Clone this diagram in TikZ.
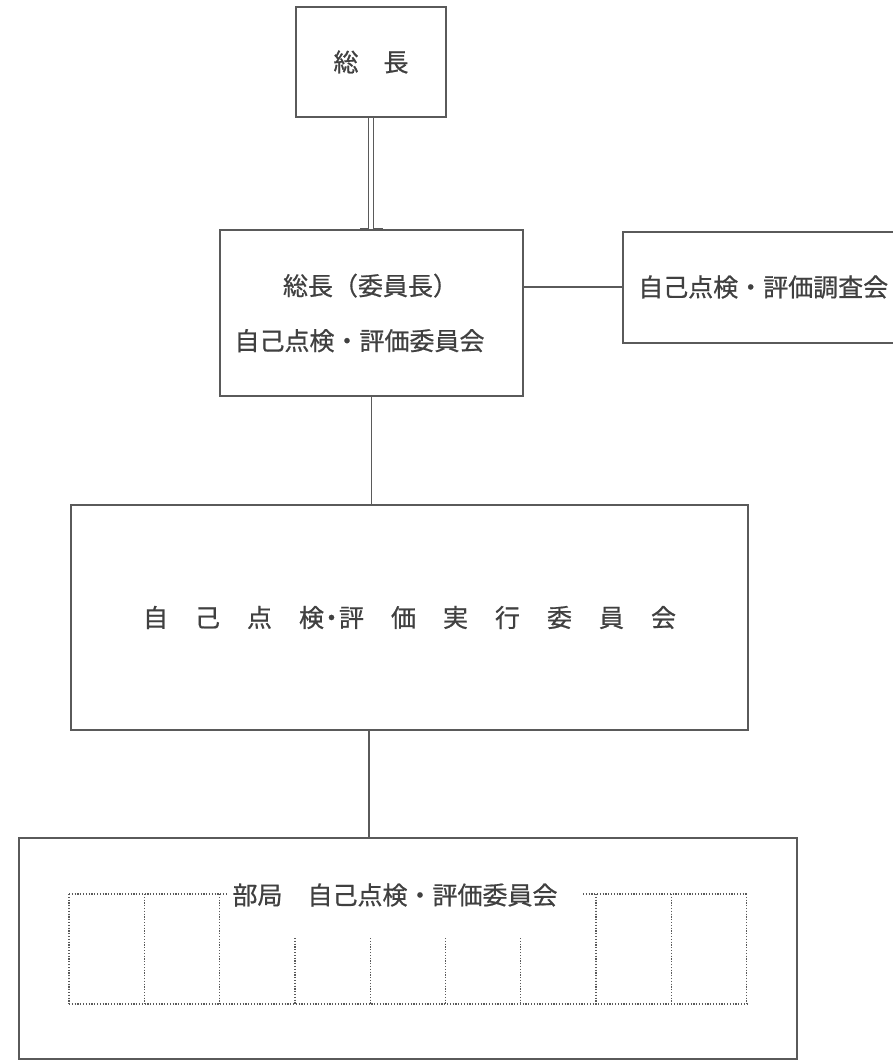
\documentclass[tikz,border=0pt]{standalone}
\usepackage{fontspec}
\newfontfamily\jp[FakeBold=0.7]{Noto Sans CJK JP}
\definecolor{ln}{HTML}{5A5A5A}
\definecolor{tx}{HTML}{404040}
\begin{document}
\begin{tikzpicture}[x=1pt,y=-1pt,
  box/.style={draw=ln,line width=1.3pt,rectangle,inner sep=0pt,text=tx,
    font=\jp\fontsize{25}{55}\selectfont,align=center},
  conn/.style={draw=ln,line width=1.2pt},
  dots/.style={draw=ln,line width=1.3pt,dash pattern=on 1.2pt off 1.6pt},
  lbl/.style={text=tx,font=\jp\fontsize{25}{30}\selectfont,inner sep=0pt}]
\useasboundingbox (0,0) rectangle (893,1060);
\fill[white] (0,0) rectangle (893,1060);

% boxes
\node[box,minimum width=150,minimum height=110] (b1) at (371,62) {総\hspace{25pt}長};
\node[box,minimum width=303,minimum height=166] (b2) at (371.5,313) {\hspace*{-2pt}総長（委員長）\\\hspace*{-24pt}自己点検・評価委員会};
\node[box,minimum width=677,minimum height=225] (b3) at (409.5,617.5)
  {自\hspace{27pt}己\hspace{27pt}点\hspace{27pt}検\kern-5pt・\kern-5pt評\hspace{27pt}価\hspace{27pt}実\hspace{27pt}行\hspace{27pt}委\hspace{27pt}員\hspace{27pt}会};
\node[box,minimum width=778,minimum height=221] (b4) at (408,948.5) {};

% right box (open on the right)
\node[lbl,anchor=west] (chosa) at (638,287) {自己点検・評価調査会};
\coordinate (rtl) at (623,232);
\coordinate (rbl) at (623,343);
\draw[conn,line width=1.3pt] (893,232) -- (rtl) -- (rbl) -- (893,343);

% connectors
\coordinate (dl) at ([xshift=-2.5pt]b1.south);
\coordinate (dr) at ([xshift=2.5pt]b1.south);
\draw[conn,line width=1pt] (dl) -- (dl |- 0,228) -- ++(-9,0);
\draw[conn,line width=1pt] (dr) -- (dr |- 0,228) -- ++(9,0);
\draw[conn,line width=1pt] ([xshift=-12pt]b2.north) -- ([xshift=13pt]b2.north);
\draw[conn] (b2.east |- chosa) -- (rtl |- chosa);
\draw[conn] (b2.south) -- (b2.south |- b3.north);
\draw[conn] (b3.south -| 369,0) -- (369,0 |- b4.north);

% bureau label and dotted frames
\node[lbl] (bk) at (395,895) {部局　自己点検・評価委員会};
\foreach \i in {0,1,2,7,8,9}{
  \draw[dots] ({69+75.3*\i},894) -- ({69+75.3*\i},1004);
}
\foreach \i in {3,4,5,6}{
  \draw[dots] ({69+75.3*\i},938) -- ({69+75.3*\i},1004);
}
\draw[dots] (69,1004) -- (746.7,1004);
\draw[dots] (69,894) -- (228,894);
\draw[dots] (583,894) -- (746.7,894);
\end{tikzpicture}
\end{document}
